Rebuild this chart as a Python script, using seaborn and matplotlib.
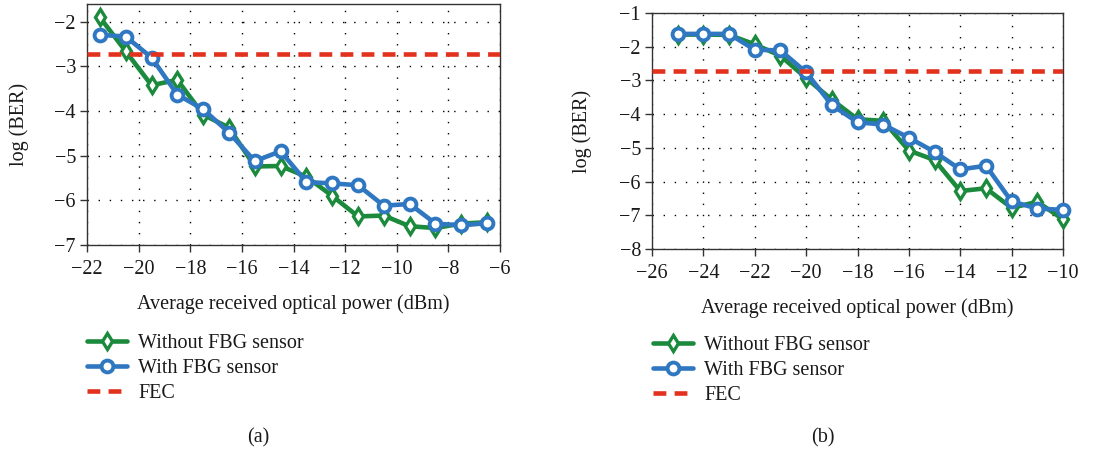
import matplotlib
matplotlib.use("Agg")
import matplotlib.pyplot as plt
import seaborn as sns
import pandas as pd
from matplotlib.lines import Line2D

# ---- data ----
x_a = [-21.5, -20.5, -19.5, -18.5, -17.5, -16.5, -15.5, -14.5, -13.5, -12.5, -11.5, -10.5, -9.5, -8.5, -7.5, -6.5]
without_a = [-1.90, -2.66, -3.42, -3.30, -4.08, -4.37, -5.24, -5.23, -5.47, -5.90, -6.36, -6.34, -6.58, -6.62, -6.52, -6.49]
with_a = [-2.29, -2.33, -2.80, -3.63, -3.96, -4.48, -5.12, -4.90, -5.59, -5.62, -5.66, -6.12, -6.08, -6.52, -6.56, -6.51]

x_b = [-25, -24, -23, -22, -21, -20, -19, -18, -17, -16, -15, -14, -13, -12, -11, -10]
without_b = [-1.64, -1.64, -1.65, -1.93, -2.27, -2.93, -3.57, -4.15, -4.20, -5.08, -5.36, -6.28, -6.20, -6.78, -6.60, -7.12]
with_b = [-1.62, -1.62, -1.62, -2.09, -2.11, -2.76, -3.73, -4.24, -4.31, -4.70, -5.12, -5.64, -5.53, -6.59, -6.80, -6.84]

fec = -2.72
series_labels = ["Without FBG sensor", "With FBG sensor", "FEC"]
captions = ["(a)", "(b)"]
xlabel = "Average received optical power (dBm)"
ylabel = "log (BER)"

GREEN = "#1b8a3c"
BLUE = "#2f78c1"
RED = "#e2311d"
TXT = "#1a1a1a"
FS = 14.5

sns.set_theme(style="ticks")
plt.rcParams["font.family"] = "serif"
plt.rcParams["font.serif"] = ["Liberation Serif", "DejaVu Serif"]
plt.rcParams["axes.unicode_minus"] = True

fig = plt.figure(figsize=(11.12, 4.53), dpi=100)
W, H = 1112, 453

def px_axes(l, t, r, b):
    return fig.add_axes([l / W, 1 - b / H, (r - l) / W, (b - t) / H])

ax_a = px_axes(87, 4, 500, 245)
ax_b = px_axes(652, 13, 1063, 249)

panels = [
    (ax_a, x_a, without_a, with_a, (-22, -6), range(-22, -5, 2), (-7, -1.6), range(-7, -1), 29, 87, 334),
    (ax_b, x_b, without_b, with_b, (-26, -10), range(-26, -9, 2), (-8, -1), range(-8, 0), 592, 653, 336),
]

def green_kw():
    return dict(color=GREEN, lw=3.3, marker="d", markersize=8.5,
                markerfacecolor="white", markeredgecolor=GREEN, markeredgewidth=2.4)

def blue_kw():
    return dict(color=BLUE, lw=3.3, marker="o", markersize=8.5,
                markerfacecolor="white", markeredgecolor=BLUE, markeredgewidth=2.8)

for ax, xs, wo, wi, xlim, xt, ylim, yt, ylab_x, leg_x, leg_y in panels:
    df = pd.DataFrame({"x": xs, "without": wo, "with": wi})
    sns.lineplot(data=df, x="x", y="without", ax=ax, zorder=3, clip_on=False, **green_kw())
    sns.lineplot(data=df, x="x", y="with", ax=ax, zorder=4, clip_on=False, **blue_kw())
    ax.axhline(fec, color=RED, lw=3.3, ls=(0, (2.8, 1.8)), zorder=5)
    ax.set_xlim(*xlim)
    ax.set_ylim(*ylim)
    ax.set_xticks(list(xt))
    ax.set_yticks(list(yt))
    ax.grid(True, color="black", ls=(0, (1, 7)), lw=1.0)
    for s in ax.spines.values():
        s.set_color("#333333")
        s.set_linewidth(1.0)
    ax.tick_params(direction="out", length=5, width=1, color="#333333",
                   labelsize=FS, labelcolor=TXT)
    ax.tick_params(axis="x", pad=6)
    ax.tick_params(axis="y", pad=3)
    ax.set_xlabel(xlabel, fontsize=FS, color=TXT, labelpad=11)
    ax.set_ylabel(ylabel, fontsize=FS, color=TXT)
    bb = ax.get_position()
    ax.yaxis.set_label_coords((ylab_x / W - bb.x0) / bb.width, 0.5)

    handles = [Line2D([], [], **green_kw()), Line2D([], [], **blue_kw()),
               Line2D([], [], color=RED, lw=3.3, ls=(0, (2.8, 1.8)))]
    ax.legend(handles, series_labels, loc="upper left",
              bbox_to_anchor=(leg_x / W, 1 - leg_y / H),
              bbox_transform=fig.transFigure, frameon=False,
              fontsize=FS, handlelength=2.0, handletextpad=0.55,
              borderpad=0, borderaxespad=0, labelspacing=0.3,
              labelcolor=TXT)

for cx, cap in zip([258, 823], captions):
    fig.text(cx / W, 1 - 438 / H, cap, ha="center", va="center",
             fontsize=FS, color=TXT)

fig.savefig("out.png", dpi=100)
